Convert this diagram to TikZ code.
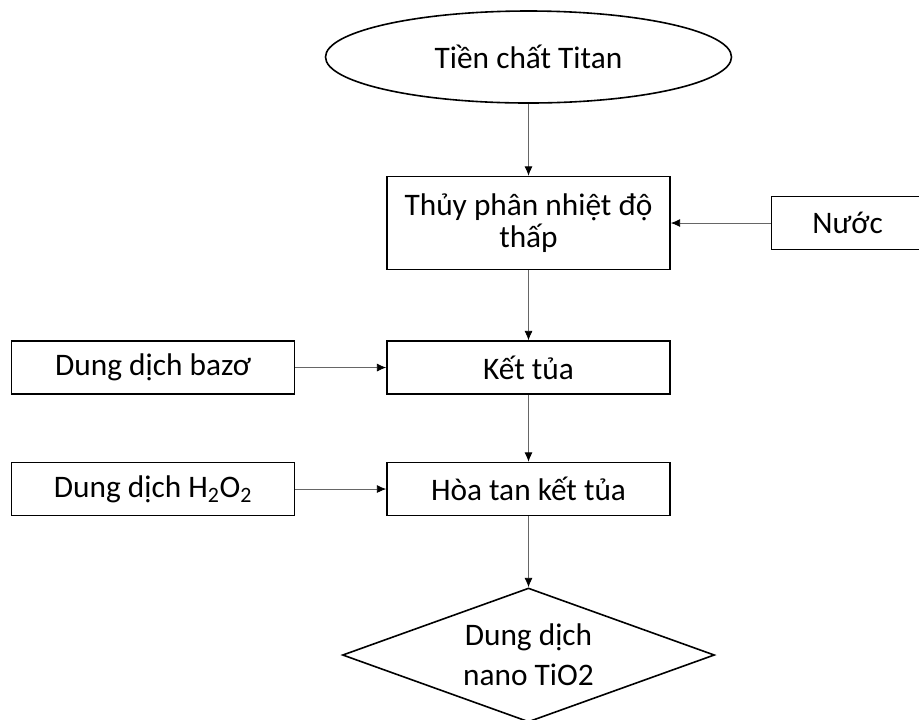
\documentclass[tikz,border=0pt]{standalone}
\usepackage{fontspec}
\setmainfont{Carlito}
\usetikzlibrary{shapes,arrows,arrows.meta,calc}
\tikzstyle{line} = [draw, -{Latex[length=7pt, width=6pt, black]}, line width=0.6pt, black!60]
\tikzstyle{block} = [draw, rectangle, line width=1.2pt, text centered, minimum width=212.25pt, minimum height=39.75pt, inner sep=0pt]
\tikzstyle{decision} = [draw, diamond, line width=1.2pt, align=center, aspect=2.78, minimum width=279pt, minimum height=100.5pt, inner sep=0pt]
\tikzstyle{terminal} = [draw, ellipse, line width=1.2pt, text centered, minimum width=304.5pt, minimum height=69pt, inner sep=0pt]

\begin{document}
\begin{tikzpicture}[x=0.75pt, y=0.75pt, node distance=108.4pt, auto, font=\fontsize{23.5}{24}\selectfont]
        \useasboundingbox (0,0) rectangle (919,-719);
        \clip (0,0) rectangle (919,-719);
        \node[terminal] at (528.5,-57) (origin) {Tiền chất Titan};
        \node[block, below of=origin, node distance=124.5pt, minimum height=69.75pt, align=center] (hydro) {Thủy phân nhiệt độ\\thấp};
        \node[block, right of=hydro, node distance=239.25pt, minimum width=114pt] (water) {Nước};
        \node[block, below of=hydro] (precip) {Kết tủa};
        \node[block, left of=precip, node distance=281.6pt] (base) {Dung dịch bazơ};
        \node[block, below of=precip, node distance=91.1pt] (dissolve) {Hòa tan kết tủa};
        \node[block, left of=dissolve, node distance=281.6pt] (peroxide) {Dung dịch H\textsubscript{2}O\textsubscript{2}};
        \node[decision, below of=dissolve, node distance=124.5pt] (product) {Dung dịch\\[6pt]nano TiO2};
        \path[line] (origin) -- (hydro);
        \path[line] (water) -- (hydro);
        \path[line] (hydro) -- (precip);
        \path[line] (base) -- (precip);
        \path[line] (precip) -- (dissolve);
        \path[line] (peroxide) -- (dissolve);
        \path[line] (dissolve) -- (product);
    \end{tikzpicture}
\end{document}
